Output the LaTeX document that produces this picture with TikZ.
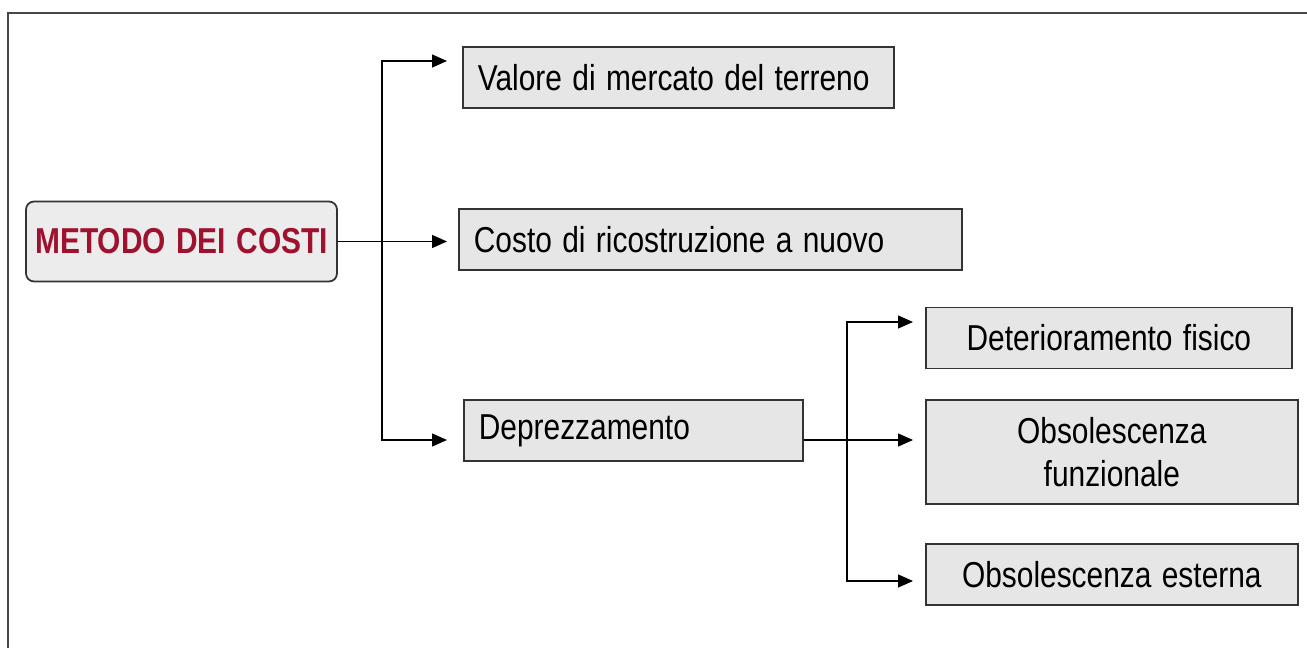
\documentclass[tikz,border=0pt]{standalone}
\usepackage{fontspec}
\setmainfont{Liberation Sans}[FakeStretch=0.83, WordSpace=1.25]
\usetikzlibrary{arrows.meta, calc}

\definecolor{boxfill}{RGB}{230,230,230}
\definecolor{rootfill}{RGB}{236,236,236}
\definecolor{rootred}{RGB}{158,18,48}
\definecolor{framegray}{RGB}{70,70,70}

\tikzset{
    box/.style={draw=black!80, fill=boxfill, line width=1pt, inner xsep=0.3cm,
        inner ysep=0pt, minimum height=1.22cm, font=\fontsize{20.5}{24.5}\selectfont},
    leftbox/.style={box, align=flush left, anchor=west},
    rightbox/.style={box, align=center, anchor=west},
    link/.style={line width=0.8pt, black},
}

\begin{document}
\begin{tikzpicture}[x=0.02cm, y=-0.02cm, >={Triangle[length=0.3cm, width=0.26cm]}]
    \useasboundingbox (0,0) rectangle (1307,648);
    % --- outer frame ---
    \draw[framegray, line width=1pt] (8,670) -- (8,13) -- (1330,13);

    % --- root ---
    \node[draw=black!80, fill=rootfill, line width=1pt, rounded corners=0.16cm,
        minimum width=6.22cm, minimum height=1.6cm, text=rootred,
        font=\fontsize{20.5}{24}\selectfont\bfseries] (metodo) at (181.5,241.5) {METODO DEI COSTI};

    % --- first level ---
    \node[leftbox, text width=8.02cm] (valore) at (462,77.5) {Valore di mercato del terreno};
    \node[leftbox, text width=9.46cm] (costo) at (458,239.5) {Costo di ricostruzione a nuovo};
    \node[leftbox, text width=6.18cm] (deprez) at (463,430.5) {Deprezzamento};

    % --- second level ---
    \node[rightbox, minimum width=7.32cm] (deter) at (925,338) {Deterioramento fisico};
    \node[rightbox, minimum width=7.44cm, minimum height=2.08cm] (obsfun) at (925,452) {Obsolescenza\\funzionale};
    \node[rightbox, minimum width=7.44cm] (obsest) at (925,574.5) {Obsolescenza esterna};

    % --- connectors ---
    \coordinate (tipA) at (447,0);
    \coordinate (busAtop) at (382,61);
    \coordinate (busAbot) at (382,440);
    \draw[link, <->] (busAtop -| tipA) -- (busAtop) -- (busAbot) -- (busAbot -| tipA);
    \draw[link, ->] (metodo.east) -- (metodo.east -| tipA);

    \coordinate (tipB) at (913,0);
    \coordinate (busBtop) at (847,322);
    \coordinate (busBmid) at (847,440);
    \coordinate (busBbot) at (847,581);
    \draw[link, <->] (busBtop -| tipB) -- (busBtop) -- (busBbot) -- (busBbot -| tipB);
    \draw[link, ->] (busBmid -| deprez.east) -- (busBmid -| tipB);
\end{tikzpicture}
\end{document}
